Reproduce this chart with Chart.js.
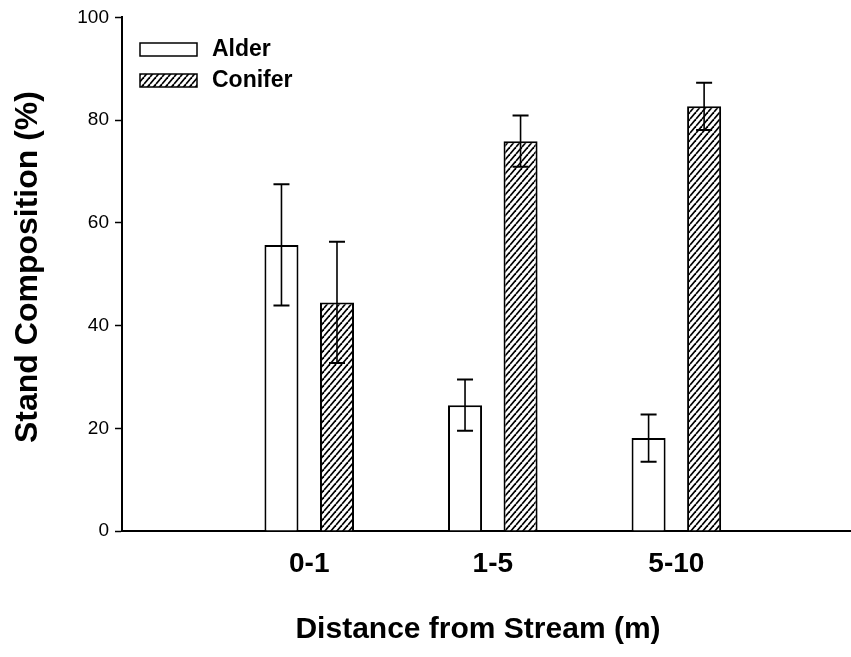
<!DOCTYPE html>
<html>
<head>
<meta charset="utf-8">
<script src="https://cdn.jsdelivr.net/npm/chart.js@4.4.0/dist/chart.umd.min.js"></script>
<style>
  html, body { margin: 0; padding: 0; background: #fff; }
</style>
</head>
<body>
<canvas id="stand-chart" width="851" height="657"></canvas>
<script>
// data
var categories = ['0-1', '1-5', '5-10'];
var alder = [55.7, 24.5, 18.1];
var alderErr = [11.8, 5.0, 4.6];
var conifer = [44.5, 75.9, 82.7];
var coniferErr = [11.8, 5.0, 4.6];
var yTicks = [0, 20, 40, 60, 80, 100];
var seriesNames = ['Alder', 'Conifer'];

var FONT = "'Liberation Sans', Arial, Helvetica, sans-serif";

// hatch fill for conifer
function makeHatch() {
  var c = document.createElement('canvas');
  c.width = 6; c.height = 7;
  var g = c.getContext('2d');
  g.fillStyle = '#fff';
  g.fillRect(0, 0, 6, 7);
  g.strokeStyle = '#000';
  g.lineWidth = 1.7;
  [-6, 0, 6].forEach(function (o) {
    g.beginPath();
    g.moveTo(o, 7);
    g.lineTo(o + 6, 0);
    g.stroke();
  });
  return g.createPattern(c, 'repeat');
}
var hatch = makeHatch();

function points(arr) {
  return arr.map(function (v, i) { return { x: i + 1, y: v }; });
}

var errorBars = {
  id: 'errorBars',
  afterDatasetsDraw: function (chart) {
    var ctx = chart.ctx;
    var yScale = chart.scales.y;
    ctx.save();
    ctx.strokeStyle = '#000';
    chart.data.datasets.forEach(function (ds, di) {
      var meta = chart.getDatasetMeta(di);
      meta.data.forEach(function (bar, i) {
        var v = ds.data[i].y, e = ds.errors[i];
        var top = yScale.getPixelForValue(v + e);
        var bot = yScale.getPixelForValue(v - e);
        ctx.lineWidth = 1.6;
        ctx.beginPath();
        ctx.moveTo(bar.x, top);
        ctx.lineTo(bar.x, bot);
        ctx.stroke();
        ctx.lineWidth = 2;
        ctx.beginPath();
        ctx.moveTo(bar.x - 8, top);
        ctx.lineTo(bar.x + 8, top);
        ctx.moveTo(bar.x - 8, bot);
        ctx.lineTo(bar.x + 8, bot);
        ctx.stroke();
      });
    });
    ctx.restore();
  }
};

var extras = {
  id: 'extras',
  afterDraw: function (chart) {
    var ctx = chart.ctx;
    ctx.save();
    ctx.fillStyle = '#000';
    // legend
    var fills = ['#fff', hatch];
    seriesNames.forEach(function (name, i) {
      var y = 43 + i * 31;
      ctx.fillStyle = fills[i];
      ctx.fillRect(140, y, 57, 13);
      ctx.strokeStyle = '#000';
      ctx.lineWidth = 1.5;
      ctx.strokeRect(140, y, 57, 13);
      ctx.fillStyle = '#000';
      ctx.font = 'bold 23px ' + FONT;
      ctx.textAlign = 'left';
      ctx.textBaseline = 'middle';
      ctx.fillText(name, 212, y + 7);
    });
    // axis titles
    ctx.font = 'bold 30px ' + FONT;
    ctx.textAlign = 'center';
    ctx.textBaseline = 'middle';
    ctx.fillText('Distance from Stream (m)', 478, 630);
    ctx.font = 'bold 32px ' + FONT;
    ctx.translate(28, 267);
    ctx.rotate(-Math.PI / 2);
    ctx.fillText('Stand Composition (%)', 0, 0);
    ctx.restore();
  }
};

var ctx = document.getElementById('stand-chart').getContext('2d');

var myChart = new Chart(ctx, {
  type: 'bar',
  data: {
    datasets: [{
      label: seriesNames[0],
      data: points(alder),
      errors: alderErr,
      backgroundColor: '#fff',
      borderColor: '#000',
      borderWidth: 2
    }, {
      label: seriesNames[1],
      data: points(conifer),
      errors: coniferErr,
      backgroundColor: hatch,
      borderColor: '#000',
      borderWidth: 2
    }]
  },
  options: {
    responsive: false,
    animation: false,
    categoryPercentage: 0.605,
    barPercentage: 0.613,
    layout: { padding: { top: 16, right: 1, left: 0, bottom: 0 } },
    plugins: {
      legend: { display: false },
      tooltip: { enabled: false }
    },
    scales: {
      x: {
        type: 'linear',
        offset: false,
        min: -0.02,
        max: 3.946,
        afterBuildTicks: function (s) {
          s.ticks = categories.map(function (c, i) { return { value: i + 1 }; });
        },
        afterFit: function (s) { s.height = 126; },
        grid: { display: false, offset: false },
        border: { display: true, color: '#000', width: 2 },
        ticks: {
          color: '#000',
          padding: 8,
          maxRotation: 0,
          font: { family: FONT, size: 28, weight: 'bold' },
          callback: function (v) { return categories[v - 1]; }
        }
      },
      y: {
        min: 0,
        max: 100,
        afterBuildTicks: function (s) {
          s.ticks = yTicks.map(function (v) { return { value: v }; });
        },
        afterFit: function (s) { s.width = 122; },
        grid: { drawOnChartArea: false, drawTicks: true, tickLength: 7, tickColor: '#000', tickWidth: 1.5 },
        border: { display: true, color: '#000', width: 2 },
        ticks: {
          color: '#000',
          padding: 6,
          font: { family: FONT, size: 19 }
        }
      }
    }
  },
  plugins: [errorBars, extras]
});
</script>
</body>
</html>
